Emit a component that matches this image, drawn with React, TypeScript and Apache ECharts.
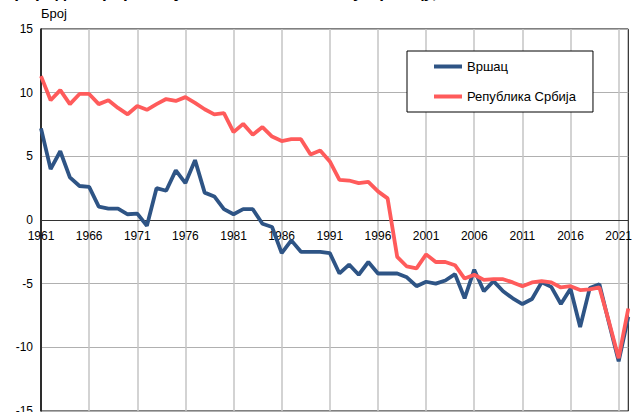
import React, { useEffect, useRef } from "react";
import * as echarts from "echarts";

const years: string[] = [];
for (let y = 1961; y <= 2022; y++) years.push(String(y));

const vrsac = [
  7.2, 4.0, 5.4, 3.35, 2.67, 2.6, 1.05, 0.9, 0.9, 0.45,
  0.5, -0.45, 2.5, 2.3, 3.9, 2.9, 4.7, 2.15, 1.85, 0.85,
  0.45, 0.85, 0.85, -0.3, -0.55, -2.6, -1.6, -2.5, -2.5, -2.5,
  -2.6, -4.2, -3.5, -4.3, -3.3, -4.2, -4.2, -4.2, -4.5, -5.2,
  -4.85, -5.0, -4.75, -4.25, -6.15, -3.9, -5.6, -4.8, -5.6, -6.15,
  -6.6, -6.2, -4.9, -5.25, -6.6, -5.4, -8.4, -5.35, -5.05, -8.1,
  -11.1, -7.6,
];

const srbija = [
  11.3, 9.4, 10.2, 9.1, 9.9, 9.9, 9.1, 9.4, 8.8, 8.3,
  8.95, 8.65, 9.1, 9.5, 9.35, 9.65, 9.2, 8.7, 8.3, 8.4,
  6.9, 7.55, 6.7, 7.3, 6.55, 6.2, 6.35, 6.35, 5.15, 5.45,
  4.6, 3.15, 3.1, 2.9, 3.0, 2.25, 1.7, -2.9, -3.65, -3.8,
  -2.7, -3.3, -3.3, -3.55, -4.6, -4.3, -4.7, -4.65, -4.65, -4.9,
  -5.2, -4.9, -4.8, -4.9, -5.3, -5.2, -5.5, -5.45, -5.3, -8.0,
  -10.85, -6.95,
];

const yTicks = { min: -15, max: 15, interval: 5 };
const titleText = "Природни прираштај на 1000 становника у Вршацу, 1961–2022.";
const yName = "Број";

export default function App() {
  const ref = useRef<HTMLDivElement>(null);
  useEffect(() => {
    const chart = echarts.init(ref.current!, null, { renderer: "svg" });
    const font = "Arial, 'Liberation Sans', sans-serif";
    chart.setOption({
      animation: false,
      textStyle: { fontFamily: font },
      grid: {
        left: 41,
        right: 6,
        top: 29,
        bottom: 19,
        show: true,
        borderColor: "#000",
        borderWidth: 1,
        backgroundColor: "transparent",
      },
      graphic: [
        {
          type: "text",
          left: 2,
          top: -16,
          style: {
            text: titleText,
            font: "bold 17px Arial, 'Liberation Sans', sans-serif",
            fill: "#000",
          },
        },
        {
          type: "text",
          left: 41,
          top: 7,
          style: {
            text: yName,
            font: "13px Arial, 'Liberation Sans', sans-serif",
            fill: "#000",
          },
        },
      ],
      legend: {
        orient: "vertical",
        left: 407,
        top: 51,
        padding: [9, 17, 9, 27],
        itemGap: 17,
        itemWidth: 28,
        itemHeight: 4,
        icon: "rect",
        borderColor: "#000",
        borderWidth: 1,
        backgroundColor: "#fff",
        textStyle: { fontSize: 13, color: "#000", fontFamily: font },
        data: ["Вршац", "Република Србија"],
      },
      xAxis: {
        type: "category",
        data: years,
        boundaryGap: false,
        offset: -191,
        axisLine: { onZero: false, lineStyle: { color: "#333", width: 1 } },
        axisTick: { show: false },
        axisLabel: {
          interval: 4,
          fontSize: 12,
          color: "#000",
          margin: 10,
          fontFamily: font,
        },
        splitLine: {
          show: true,
          interval: 4,
          lineStyle: { color: "#c4c4c4", width: 1.5 },
        },
      },
      yAxis: {
        type: "value",
        min: yTicks.min,
        max: yTicks.max,
        interval: yTicks.interval,
        axisLine: { show: true, lineStyle: { color: "#000", width: 1.5 } },
        axisTick: { show: false },
        axisLabel: { fontSize: 12, color: "#000", margin: 8, fontFamily: font },
        splitLine: { show: true, lineStyle: { color: "#b0b0b0", width: 1 } },
      },
      series: [
        {
          name: "Вршац",
          type: "line",
          data: vrsac,
          symbol: "none",
          lineStyle: { color: "#2E5485", width: 3.8 },
          itemStyle: { color: "#2E5485" },
        },
        {
          name: "Република Србија",
          type: "line",
          data: srbija,
          symbol: "none",
          lineStyle: { color: "#FF5B5B", width: 3.8 },
          itemStyle: { color: "#FF5B5B" },
        },
      ],
    });
    return () => chart.dispose();
  }, []);
  return (
    <div
      ref={ref}
      style={{ position: "absolute", left: 0, top: 0, width: 635, height: 430 }}
    />
  );
}
